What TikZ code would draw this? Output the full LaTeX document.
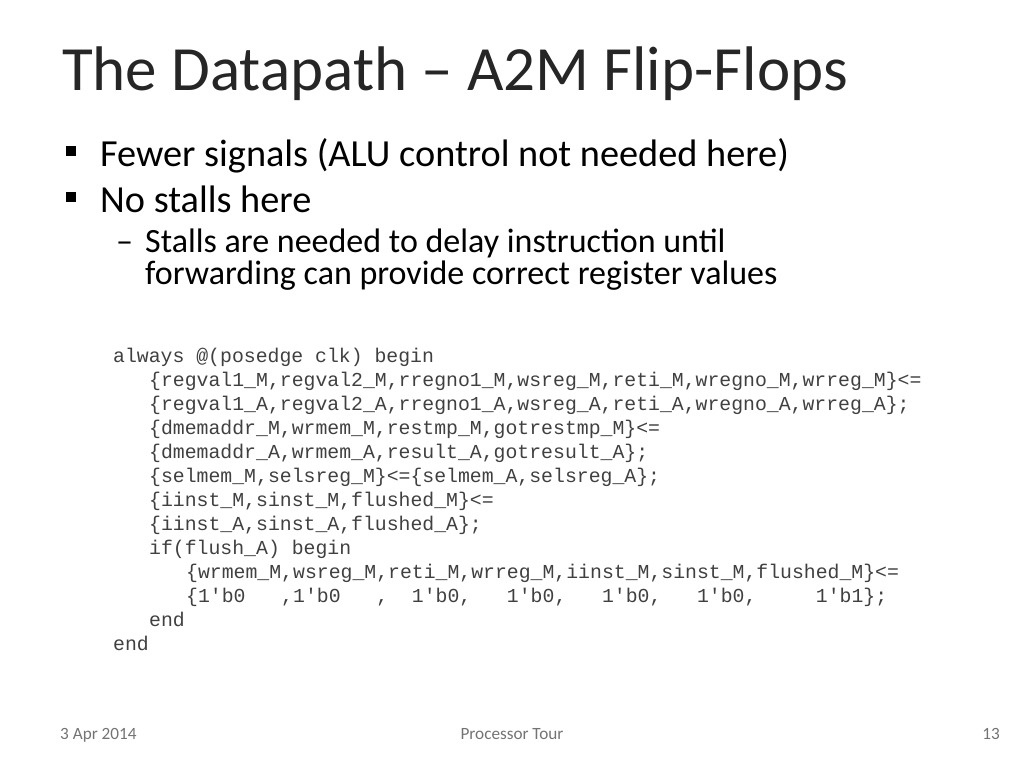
\documentclass[tikz,border=0pt]{standalone}
\usepackage{fontspec}
\setmainfont{Carlito}
\setmonofont{Liberation Mono}
\tikzset{
  slidetitle/.style={anchor=base west, inner sep=0pt, font=\fontsize{63}{70}\selectfont, text=black!85},
  bullettext/.style={anchor=base west, inner sep=0pt, font=\fontsize{38.3}{42}\selectfont},
  subtext/.style={anchor=base west, inner sep=0pt, font=\fontsize{34}{38}\selectfont},
  codeline/.style={anchor=base west, inner sep=0pt, font=\ttfamily\fontsize{19.8}{24}\selectfont, text=black!75},
  footer/.style={anchor=base, inner sep=0pt, font=\fontsize{17.2}{19}\selectfont, text=black!55}
}
\begin{document}
\begin{tikzpicture}[x=1pt,y=-1pt]
% Set the slide frame
\useasboundingbox (0,0) rectangle (1024,768);

% Title and bullets
\node[slidetitle] (title) at (62,90) {The Datapath -- A2M Flip-Flops};
\fill (66,146) rectangle +(10,10);
\node[bullettext] (b1) at (100,166) {Fewer signals (ALU control not needed here)};
\fill (66,192) rectangle +(10,10);
\node[bullettext] (b2) at (100,212) {No stalls here};
\node[subtext] (d1) at (116,252) {--};
\node[subtext] (s1) at (145,252) {Stalls are needed to delay instruction until};
\node[subtext] (s2) at (145,284) {forwarding can provide correct register values};

% Code lines
\node[codeline] (c1) at (113,362) {always @(posedge clk) begin};
\node[codeline] (c2) at (149,386) {\{regval1\_M,regval2\_M,rregno1\_M,wsreg\_M,reti\_M,wregno\_M,wrreg\_M\}<=};
\node[codeline] (c3) at (149,410) {\{regval1\_A,regval2\_A,rregno1\_A,wsreg\_A,reti\_A,wregno\_A,wrreg\_A\};};
\node[codeline] (c4) at (149,434) {\{dmemaddr\_M,wrmem\_M,restmp\_M,gotrestmp\_M\}<=};
\node[codeline] (c5) at (149,458) {\{dmemaddr\_A,wrmem\_A,result\_A,gotresult\_A\};};
\node[codeline] (c6) at (149,482) {\{selmem\_M,selsreg\_M\}<=\{selmem\_A,selsreg\_A\};};
\node[codeline] (c7) at (149,506) {\{iinst\_M,sinst\_M,flushed\_M\}<=};
\node[codeline] (c8) at (149,530) {\{iinst\_A,sinst\_A,flushed\_A\};};
\node[codeline] (c9) at (149,554) {if(flush\_A) begin};
\node[codeline] (c10) at (186,578) {\{wrmem\_M,wsreg\_M,reti\_M,wrreg\_M,iinst\_M,sinst\_M,flushed\_M\}<=};
\node[codeline] (c11) at (186,602) {\{1'b0~~~,1'b0~~~,~~1'b0,~~~1'b0,~~~1'b0,~~~1'b0,~~~~~1'b1\};};
\node[codeline] (c12) at (149,626) {end};
\node[codeline] (c13) at (113,650) {end};

% Footer
\node[footer, anchor=base west] (date) at (60,739) {3 Apr 2014};
\node[footer] (tour) at (512,739) {Processor Tour};
\node[footer, anchor=base east] (page) at (1000,739) {13};
\end{tikzpicture}
\end{document}
